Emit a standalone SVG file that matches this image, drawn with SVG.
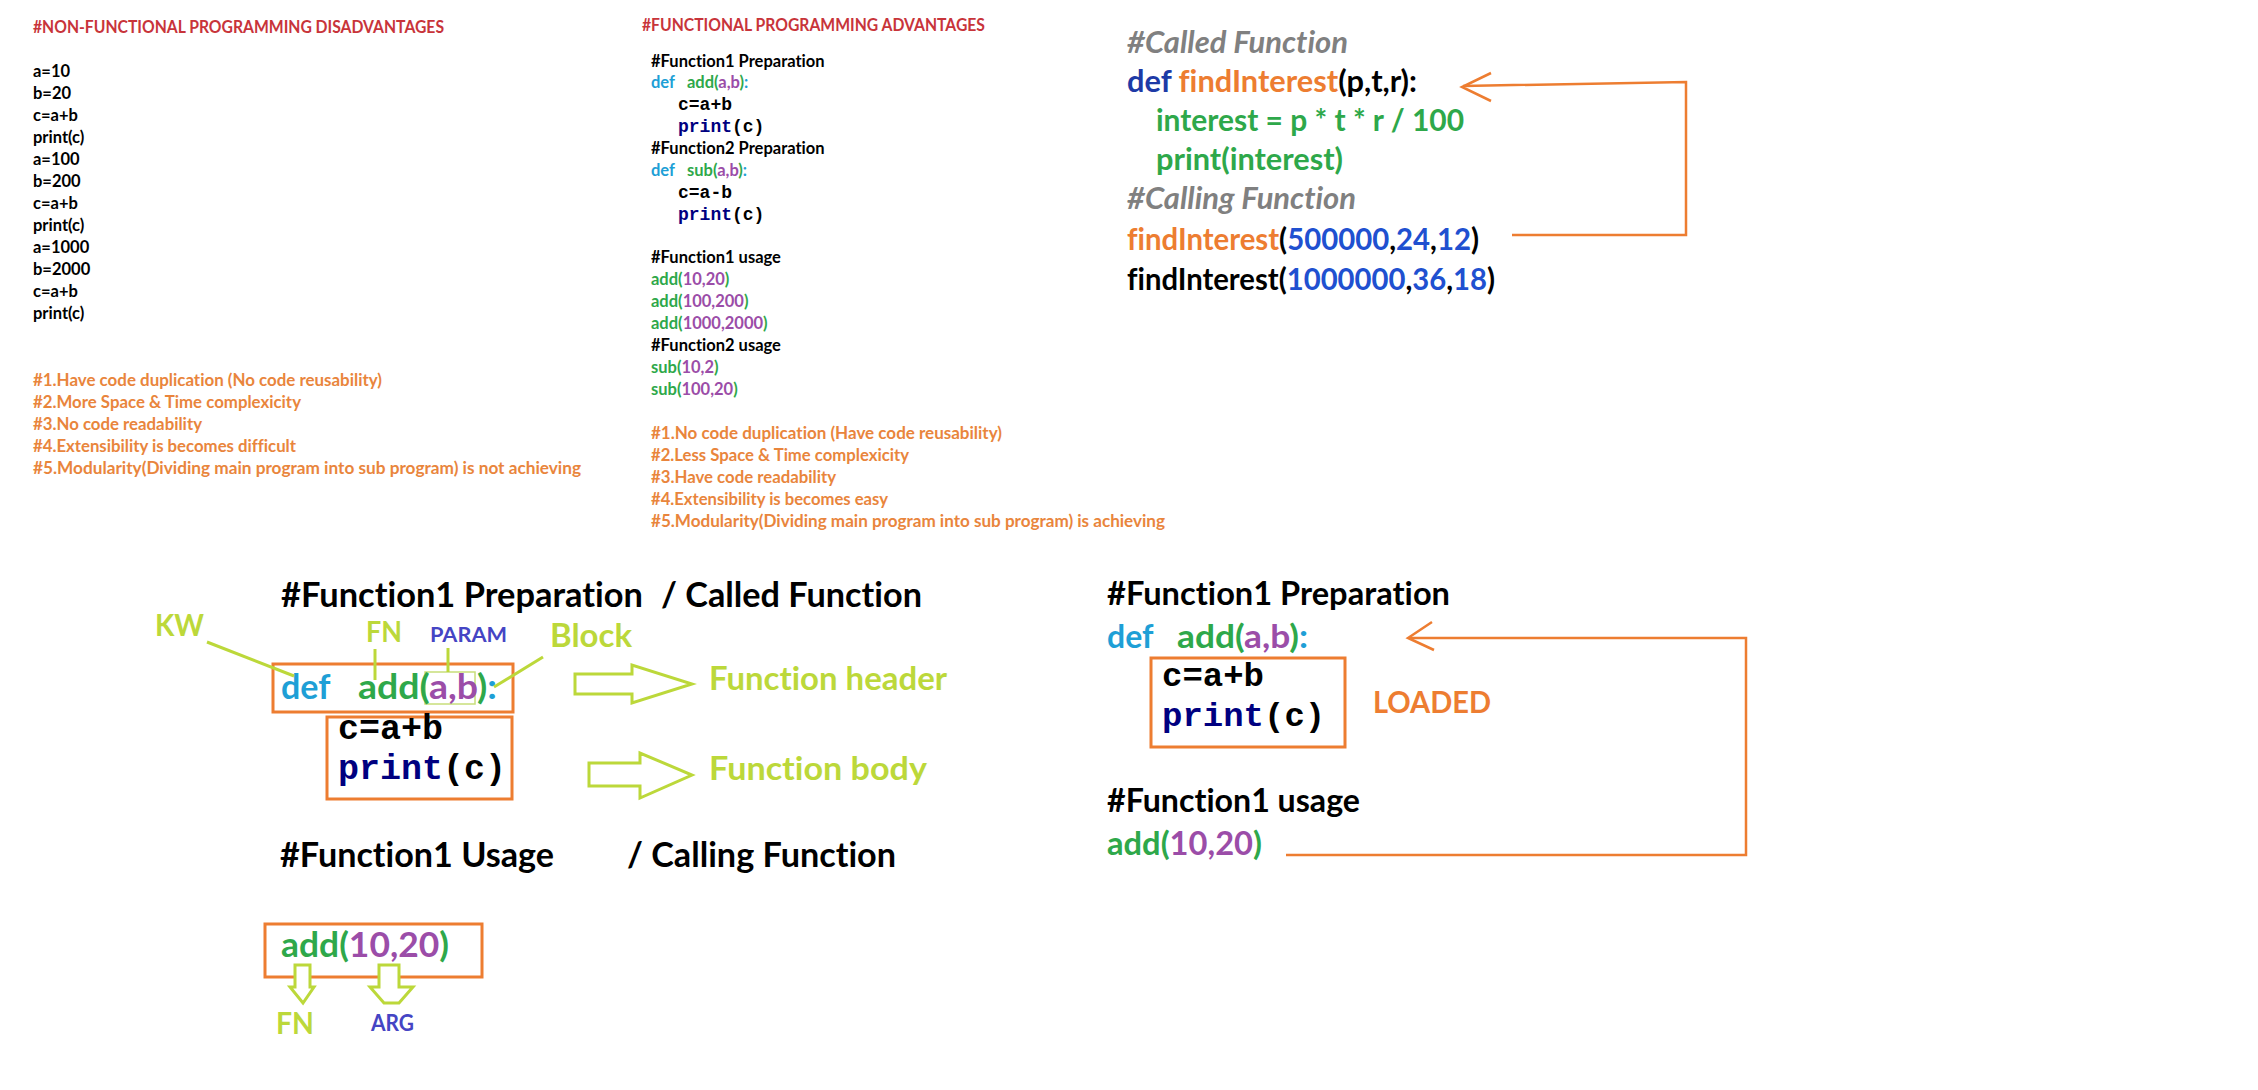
<svg xmlns="http://www.w3.org/2000/svg" width="2258" height="1090" viewBox="0 0 2258 1090">
<style>
text{font-family:Lato,"Liberation Sans",sans-serif;font-weight:700;font-variant-ligatures:none}
.m{font-family:"Liberation Mono","Courier New",monospace;font-weight:700}
.red{fill:#C8343A}.or{fill:#E9853C}.k{fill:#000}.kw{fill:#1E9FD6}.gr{fill:#2EA84A}.pu{fill:#9B4DA8}.nv{fill:#000080}
.yg{fill:#BCD83A}.pb{fill:#4545C4}.gy{fill:#808080}.db{fill:#1D3AA6}.nb{fill:#2050D0}.ob{fill:#ED7D31}
.s{font-size:16.5px}
.box{fill:none;stroke:#ED7D31;stroke-width:3}
.ln{fill:none;stroke:#BCD83A;stroke-width:3}
.ha{fill:#fff;stroke:#BCD83A;stroke-width:3;stroke-linejoin:miter}
.con{fill:none;stroke:#ED7D31;stroke-width:2.5}
</style>

<g id="non-functional">
<text class="s red" x="33" y="33" textLength="411" lengthAdjust="spacingAndGlyphs">#NON-FUNCTIONAL PROGRAMMING DISADVANTAGES</text>
<text class="s k" x="33" y="77">a=10</text>
<text class="s k" x="33" y="99">b=20</text>
<text class="s k" x="33" y="121">c=a+b</text>
<text class="s k" x="33" y="143">print(c)</text>
<text class="s k" x="33" y="165">a=100</text>
<text class="s k" x="33" y="187">b=200</text>
<text class="s k" x="33" y="209">c=a+b</text>
<text class="s k" x="33" y="231">print(c)</text>
<text class="s k" x="33" y="253">a=1000</text>
<text class="s k" x="33" y="275">b=2000</text>
<text class="s k" x="33" y="297">c=a+b</text>
<text class="s k" x="33" y="319">print(c)</text>
<text class="s or" x="33" y="386" textLength="349" lengthAdjust="spacingAndGlyphs">#1.Have code duplication (No code reusability)</text>
<text class="s or" x="33" y="408" textLength="268" lengthAdjust="spacingAndGlyphs">#2.More Space &amp; Time complexicity</text>
<text class="s or" x="33" y="430" textLength="169" lengthAdjust="spacingAndGlyphs">#3.No code readability</text>
<text class="s or" x="33" y="452" textLength="263" lengthAdjust="spacingAndGlyphs">#4.Extensibility is becomes difficult</text>
<text class="s or" x="33" y="474" textLength="548" lengthAdjust="spacingAndGlyphs">#5.Modularity(Dividing main program into sub program) is not achieving</text>
</g>

<g id="functional">
<text class="s red" x="642" y="31" textLength="343" lengthAdjust="spacingAndGlyphs">#FUNCTIONAL PROGRAMMING ADVANTAGES</text>
<text class="s k" x="651" y="67">#Function1 Preparation</text>
<text class="s" x="651" y="88"><tspan class="kw">def</tspan><tspan class="gr" x="687">add(</tspan><tspan class="pu">a,b</tspan><tspan class="gr">)</tspan><tspan class="kw">:</tspan></text>
<text class="m k" x="678" y="110" font-size="18">c=a+b</text>
<text class="m" x="678" y="132" font-size="18"><tspan class="nv">print</tspan><tspan class="k">(c)</tspan></text>
<text class="s k" x="651" y="154">#Function2 Preparation</text>
<text class="s" x="651" y="176"><tspan class="kw">def</tspan><tspan class="gr" x="687">sub(</tspan><tspan class="pu">a,b</tspan><tspan class="gr">)</tspan><tspan class="kw">:</tspan></text>
<text class="m k" x="678" y="198" font-size="18">c=a-b</text>
<text class="m" x="678" y="220" font-size="18"><tspan class="nv">print</tspan><tspan class="k">(c)</tspan></text>
<text class="s k" x="651" y="263">#Function1 usage</text>
<text class="s" x="651" y="285"><tspan class="gr">add(</tspan><tspan class="pu">10,20</tspan><tspan class="gr">)</tspan></text>
<text class="s" x="651" y="307"><tspan class="gr">add(</tspan><tspan class="pu">100,200</tspan><tspan class="gr">)</tspan></text>
<text class="s" x="651" y="329"><tspan class="gr">add(</tspan><tspan class="pu">1000,2000</tspan><tspan class="gr">)</tspan></text>
<text class="s k" x="651" y="351">#Function2 usage</text>
<text class="s" x="651" y="373"><tspan class="gr">sub(</tspan><tspan class="pu">10,2</tspan><tspan class="gr">)</tspan></text>
<text class="s" x="651" y="395"><tspan class="gr">sub(</tspan><tspan class="pu">100,20</tspan><tspan class="gr">)</tspan></text>
<text class="s or" x="651" y="439" textLength="351" lengthAdjust="spacingAndGlyphs">#1.No code duplication (Have code reusability)</text>
<text class="s or" x="651" y="461" textLength="258" lengthAdjust="spacingAndGlyphs">#2.Less Space &amp; Time complexicity</text>
<text class="s or" x="651" y="483" textLength="185" lengthAdjust="spacingAndGlyphs">#3.Have code readability</text>
<text class="s or" x="651" y="505" textLength="237" lengthAdjust="spacingAndGlyphs">#4.Extensibility is becomes easy</text>
<text class="s or" x="651" y="527" textLength="514" lengthAdjust="spacingAndGlyphs">#5.Modularity(Dividing main program into sub program) is achieving</text>
</g>

<g id="find-interest" font-size="29.5">
<text class="gy" x="1127" y="53" font-style="italic" textLength="221" lengthAdjust="spacingAndGlyphs">#Called Function</text>
<text x="1127" y="92" textLength="290" lengthAdjust="spacingAndGlyphs"><tspan class="db">def </tspan><tspan class="ob">findInterest</tspan><tspan class="k">(p,t,r):</tspan></text>
<text class="gr" x="1156" y="131" textLength="308" lengthAdjust="spacingAndGlyphs">interest = p * t * r / 100</text>
<text class="gr" x="1156" y="170" textLength="187" lengthAdjust="spacingAndGlyphs">print(interest)</text>
<text class="gy" x="1127" y="209" font-style="italic" textLength="229" lengthAdjust="spacingAndGlyphs">#Calling Function</text>
<text x="1127" y="250" textLength="352" lengthAdjust="spacingAndGlyphs"><tspan class="ob">findInterest</tspan><tspan class="k">(</tspan><tspan class="nb">500000</tspan><tspan class="k">,</tspan><tspan class="nb">24</tspan><tspan class="k">,</tspan><tspan class="nb">12</tspan><tspan class="k">)</tspan></text>
<text x="1127" y="290" textLength="368" lengthAdjust="spacingAndGlyphs"><tspan class="k">findInterest(</tspan><tspan class="nb">1000000</tspan><tspan class="k">,</tspan><tspan class="nb">36</tspan><tspan class="k">,</tspan><tspan class="nb">18</tspan><tspan class="k">)</tspan></text>
</g>

<g id="anatomy">
<text class="k" x="281" y="607" font-size="34" textLength="362" lengthAdjust="spacingAndGlyphs">#Function1 Preparation</text>
<text class="k" x="661" y="607" font-size="34" textLength="261" lengthAdjust="spacingAndGlyphs">/ Called Function</text>
<text class="yg" x="155" y="636" font-size="31" textLength="49" lengthAdjust="spacingAndGlyphs">KW</text>
<text class="yg" x="366" y="642" font-size="29" textLength="36" lengthAdjust="spacingAndGlyphs">FN</text>
<text class="pb" x="430" y="642" font-size="20" textLength="77" lengthAdjust="spacingAndGlyphs">PARAM</text>
<text class="yg" x="550" y="647" font-size="32" textLength="82" lengthAdjust="spacingAndGlyphs">Block</text>
<rect class="box" x="273" y="664" width="240" height="48"/>
<rect x="425" y="672" width="50" height="32" fill="none" stroke="#C8DE7A" stroke-width="1.5"/>
<text x="281" y="699" font-size="34"><tspan class="kw">def</tspan></text>
<text x="358" y="699" font-size="34" textLength="139" lengthAdjust="spacingAndGlyphs"><tspan class="gr">add(</tspan><tspan class="pu">a,b</tspan><tspan class="gr">)</tspan><tspan class="kw">:</tspan></text>
<rect class="box" x="327" y="717" width="185" height="82"/>
<text class="m k" x="338" y="739" font-size="35">c=a+b</text>
<text class="m" x="338" y="779" font-size="35"><tspan class="nv">print</tspan><tspan class="k">(c)</tspan></text>
<polygon class="ha" points="575,674 632,674 632,665 692,684 632,703 632,694 575,694"/>
<polygon class="ha" points="589,763 640,763 640,753 692,775 640,798 640,786 589,786"/>
<text class="yg" x="709" y="690" font-size="33" textLength="238" lengthAdjust="spacingAndGlyphs">Function header</text>
<text class="yg" x="709" y="780" font-size="33" textLength="218" lengthAdjust="spacingAndGlyphs">Function body</text>
<text class="k" x="280" y="867" font-size="34" textLength="274" lengthAdjust="spacingAndGlyphs">#Function1 Usage</text>
<text class="k" x="627" y="867" font-size="34" textLength="269" lengthAdjust="spacingAndGlyphs">/ Calling Function</text>
<rect class="box" x="265" y="924" width="217" height="53"/>
<text x="281" y="957" font-size="34" textLength="168" lengthAdjust="spacingAndGlyphs"><tspan class="gr">add(</tspan><tspan class="pu">10,20</tspan><tspan class="gr">)</tspan></text>
<polygon class="ha" stroke-width="2.5" points="295,965 310,965 310,987 314,987 303,1003 290,987 295,987"/>
<polygon class="ha" stroke-width="2.5" points="379,965 399,965 399,987 413,987 399,1003 384,1003 370,987 379,987"/>
<text class="yg" x="276" y="1034" font-size="31" textLength="38" lengthAdjust="spacingAndGlyphs">FN</text>
<text class="pb" x="371" y="1031" font-size="22" textLength="43" lengthAdjust="spacingAndGlyphs">ARG</text>
</g>

<g id="loaded">
<text class="k" x="1107" y="605" font-size="32" textLength="343" lengthAdjust="spacingAndGlyphs">#Function1 Preparation</text>
<text x="1107" y="648" font-size="32"><tspan class="kw">def</tspan></text>
<text x="1177" y="648" font-size="32" textLength="131" lengthAdjust="spacingAndGlyphs"><tspan class="gr">add(</tspan><tspan class="pu">a,b</tspan><tspan class="gr">)</tspan><tspan class="kw">:</tspan></text>
<rect class="box" x="1151" y="658" width="194" height="89"/>
<text class="m k" x="1162" y="686" font-size="34">c=a+b</text>
<text class="m" x="1162" y="726" font-size="34"><tspan class="nv">print</tspan><tspan class="k">(c)</tspan></text>
<text class="ob" x="1373" y="713" font-size="31" textLength="118" lengthAdjust="spacingAndGlyphs">LOADED</text>
<text class="k" x="1107" y="812" font-size="32" textLength="253" lengthAdjust="spacingAndGlyphs">#Function1 usage</text>
<text x="1107" y="855" font-size="32" textLength="155" lengthAdjust="spacingAndGlyphs"><tspan class="gr">add(</tspan><tspan class="pu">10,20</tspan><tspan class="gr">)</tspan></text>
</g>

<g id="connectors">
<line class="ln" x1="207" y1="642" x2="294" y2="676"/>
<line class="ln" x1="375" y1="649" x2="375" y2="680"/>
<line class="ln" x1="448" y1="648" x2="448" y2="672"/>
<line class="ln" x1="543" y1="657" x2="494" y2="687"/>
<polyline class="con" points="1512,235 1686,235 1686,82 1463,86"/>
<polyline class="con" points="1491,73 1462,87 1491,101"/>
<polyline class="con" points="1286,855 1746,855 1746,638 1410,638"/>
<polyline class="con" points="1432,622 1408,638 1434,650"/>
</g>
</svg>
